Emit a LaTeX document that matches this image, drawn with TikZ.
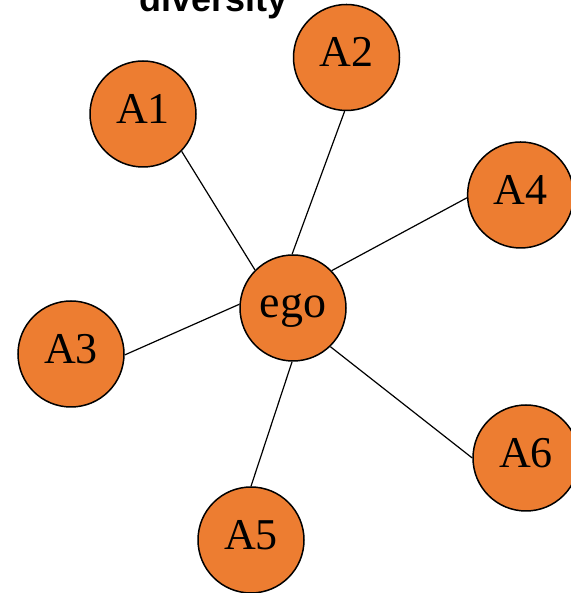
\documentclass[tikz,border=0pt]{standalone}
\usepackage{fontspec}
\setmainfont{Liberation Serif}
\newfontfamily\titlefont{Liberation Sans}
\definecolor{vorange}{HTML}{ED7D31}
\begin{document}
\begin{tikzpicture}[x=1pt,y=1pt,
  vtx/.style={circle,draw=black,line width=1.5pt,fill=vorange,minimum size=106pt,inner sep=0pt,
    font=\fontsize{44}{44}\selectfont,text height=29pt,text depth=10pt},
  egovtx/.style={vtx,font=\fontsize{46}{46}\selectfont,text height=21pt,text depth=1pt},
  edge/.style={draw=black,line width=1.2pt}]
\useasboundingbox (0,0) rectangle (570,593);
\node[font=\titlefont\bfseries\fontsize{36}{36}\selectfont,anchor=base] (title) at (213.5,581) {diversity};
\node[egovtx] (ego) at (293,285) {ego};
\node[vtx] (A1) at (143,479) {A1};
\node[vtx] (A2) at (346.5,535.5) {A2};
\node[vtx] (A4) at (520.6,398) {A4};
\node[vtx] (A3) at (71,239) {A3};
\node[vtx] (A5) at (251,53) {A5};
\node[vtx] (A6) at (526,135) {A6};
\draw[edge] (ego.135) -- (A1.-44);
\draw[edge] (ego.91) -- (A2.268);
\draw[edge] (ego.44) -- (A4.183);
\draw[edge] (ego.176) -- (A3.-1);
\draw[edge] (ego.-91) -- (A5.90);
\draw[edge] (ego.-46) -- (A6.180);
\end{tikzpicture}
\end{document}
